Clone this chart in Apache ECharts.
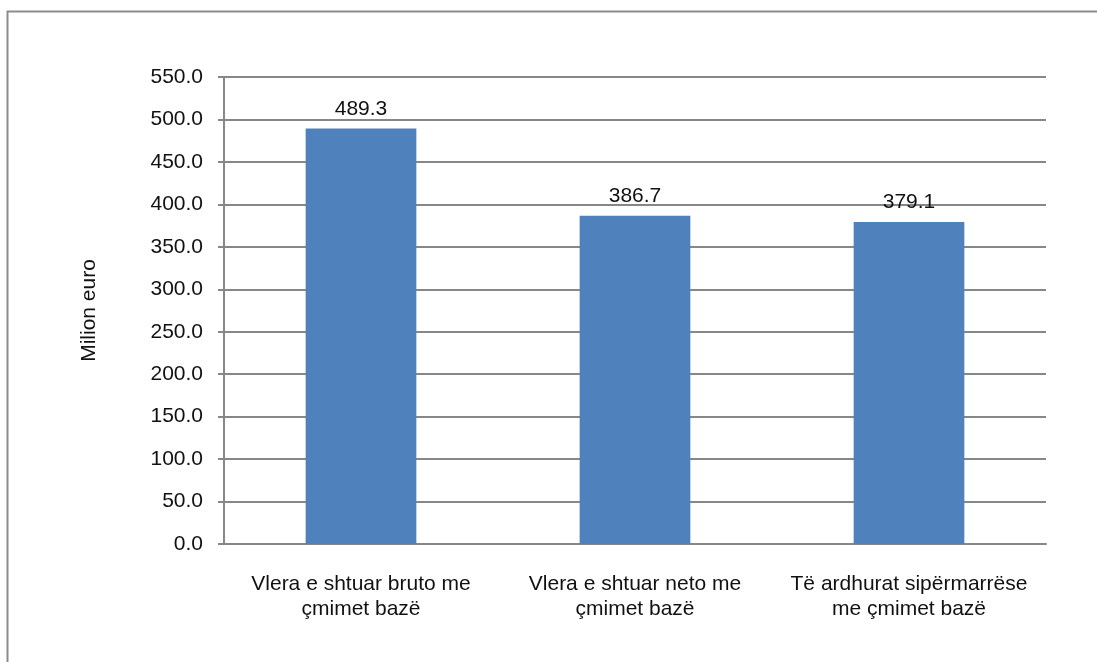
<!DOCTYPE html>
<html>
<head>
<meta charset="utf-8">
<script src="https://cdn.jsdelivr.net/npm/echarts@6/dist/echarts.min.js"></script>
<style>
  html, body { margin: 0; padding: 0; background: #fff; }
  #chart { width: 1097px; height: 662px; }
</style>
</head>
<body>
<div id="chart"></div>
<script>
// chart data
var categories = [
  'Vlera e shtuar bruto me\nçmimet bazë',
  'Vlera e shtuar neto me\nçmimet bazë',
  'Të ardhurat sipërmarrëse\nme çmimet bazë'
]
var values = [489.3, 386.7, 379.1]
var yMin = 0
var yMax = 550
var yStep = 50

var chart = echarts.init(document.getElementById('chart'))
var font = 'Liberation Sans, Arial, sans-serif'
var gray = '#878787'

chart.setOption({
  animation: false,
  textStyle: { fontFamily: font },
  graphic: [
    {
      type: 'rect',
      shape: { x: 7.5, y: 11.5, width: 1200, height: 800 },
      style: { fill: 'none', stroke: '#8c8c8c', lineWidth: 2 },
      silent: true
    }
  ],
  grid: {
    left: 224,
    right: 51,
    top: 77,
    bottom: 118
  },
  xAxis: {
    type: 'category',
    data: categories,
    axisLine: { lineStyle: { color: gray, width: 2 } },
    axisTick: { length: 9, lineStyle: { color: gray, width: 2 } },
    axisLabel: {
      color: '#111',
      fontSize: 21,
      lineHeight: 25,
      margin: 28,
      interval: 0
    }
  },
  yAxis: {
    type: 'value',
    min: yMin,
    max: yMax,
    interval: yStep,
    name: 'Milion euro',
    nameLocation: 'middle',
    nameRotate: 90,
    nameGap: 124,
    nameTextStyle: { color: '#111', fontSize: 21 },
    axisLine: { show: true, lineStyle: { color: gray, width: 2 } },
    axisTick: { show: true, length: 6, lineStyle: { color: gray, width: 2 } },
    axisLabel: {
      color: '#111',
      fontSize: 21,
      margin: 21,
      formatter: function (v) { return v.toFixed(1) }
    },
    splitLine: { lineStyle: { color: gray, width: 2 } }
  },
  series: [
    {
      type: 'bar',
      data: values,
      barWidth: '40.4%',
      itemStyle: { color: '#4f81bd' },
      label: {
        show: true,
        position: 'top',
        distance: 9,
        color: '#111',
        fontSize: 21,
        formatter: function (p) { return p.value.toFixed(1) }
      }
    }
  ]
})
</script>
</body>
</html>
